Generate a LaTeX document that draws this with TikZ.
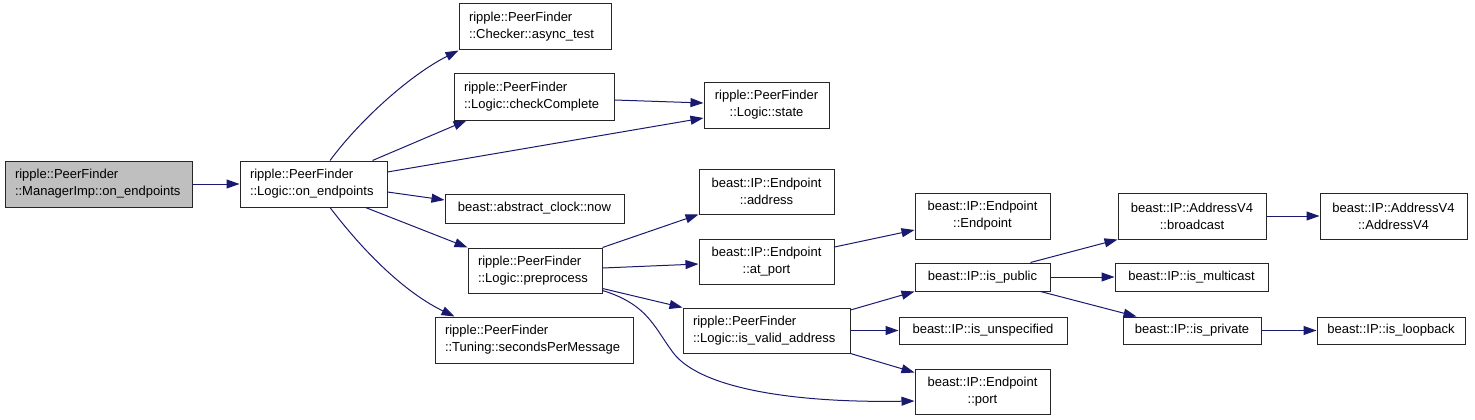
\documentclass[tikz,border=0pt]{standalone}
\usepackage{fontspec}
\setmainfont{Liberation Sans}
\usetikzlibrary{arrows.meta}
\definecolor{edgeblue}{HTML}{191970}
\definecolor{hilite}{HTML}{BFBFBF}
\tikzset{
  fn/.style={draw=black!85, line width=1pt, fill=white, inner ysep=0pt, inner xsep=10pt,
    font=\fontsize{13}{17}\selectfont, anchor=center},
  lbox/.style={fn, align=left},
  cbox/.style={fn, align=center},
  call/.style={draw=edgeblue, line width=1pt, -{Triangle[length=13pt,width=9pt]}},
}
\begin{document}
\begin{tikzpicture}[x=1pt,y=-1pt]
\useasboundingbox (0,0) rectangle (1475,420);
% nodes
\node[lbox, fill=hilite, text width=167pt, minimum height=46pt] (A) at (98.5,184) {ripple::PeerFinder\\::ManagerImp::on\_endpoints};
\node[lbox, text width=127pt, minimum height=46pt] (B) at (313.5,184) {ripple::PeerFinder\\::Logic::on\_endpoints};
\node[lbox, text width=132pt, minimum height=46pt] (C) at (535,27) {ripple::PeerFinder\\::Checker::async\_test};
\node[lbox, text width=140pt, minimum height=46pt] (D) at (534,97) {ripple::PeerFinder\\::Logic::checkComplete};
\node[cbox, minimum width=125pt, minimum height=46pt] (E) at (766.5,105) {ripple::PeerFinder\\::Logic::state};
\node[cbox, minimum width=179pt, minimum height=29pt] (F) at (534.5,208.5) {beast::abstract\_clock::now};
\node[lbox, text width=114pt, minimum height=45pt] (G) at (535,270.5) {ripple::PeerFinder\\::Logic::preprocess};
\node[cbox, minimum width=135pt, minimum height=45pt] (H) at (766.5,191.5) {beast::IP::Endpoint\\::address};
\node[cbox, minimum width=135pt, minimum height=45pt] (I) at (766.5,261.5) {beast::IP::Endpoint\\::at\_port};
\node[lbox, text width=178pt, minimum height=46pt] (J) at (534,340) {ripple::PeerFinder\\::Tuning::secondsPerMessage};
\node[lbox, text width=147pt, minimum height=45pt] (K) at (766.5,330.5) {ripple::PeerFinder\\::Logic::is\_valid\_address};
\node[cbox, minimum width=135pt, minimum height=46pt] (L) at (982.5,216) {beast::IP::Endpoint\\::Endpoint};
\node[cbox, minimum width=135pt, minimum height=28pt] (M) at (982.5,277) {beast::IP::is\_public};
\node[cbox, minimum width=148pt, minimum height=46pt] (N) at (1192,216) {beast::IP::AddressV4\\::broadcast};
\node[cbox, minimum width=147pt, minimum height=46pt] (O) at (1393.5,216) {beast::IP::AddressV4\\::AddressV4};
\node[cbox, minimum width=153pt, minimum height=28pt] (P) at (1191.5,277) {beast::IP::is\_multicast};
\node[cbox, minimum width=168pt, minimum height=27pt] (Q) at (983,330.5) {beast::IP::is\_unspecified};
\node[cbox, minimum width=135pt, minimum height=45pt] (R) at (982.5,391.5) {beast::IP::Endpoint\\::port};
\node[cbox, minimum width=138pt, minimum height=27pt] (S) at (1192,330.5) {beast::IP::is\_private};
\node[cbox, minimum width=148pt, minimum height=27pt] (T) at (1391,330.5) {beast::IP::is\_loopback};
% edges
\draw[call] (A.east) -- (B.west);
\draw[call] ([xshift=16.5pt]B.north) .. controls (360,120) and (410,75) .. (C.south west);
\draw[call] ([xshift=-15pt]B.north east) -- ([xshift=13pt]D.south west);
\draw[call] ([yshift=12pt]B.east) -- ([yshift=-13pt]E.west);
\draw[call] ([yshift=-8pt]B.east) -- ([yshift=8.5pt]F.west);
\draw[call] ([xshift=-22pt]B.south east) -- (G.north west);
\draw[call] ([xshift=16.5pt]B.south) .. controls (370,260) and (410,295) .. ([xshift=20pt]J.north west);
\draw[call] (G.north east) -- (H.south west);
\draw[call] ([yshift=-3pt]D.east) -- ([yshift=2pt]E.west);
\draw[call] ([yshift=2.5pt]G.east) -- ([yshift=-2.5pt]I.west);
\draw[call] ([yshift=-18pt]G.east) -- (K.north west);
\draw[call] ([yshift=-20pt]G.east) .. controls (650,305) and (655,330) .. (675,355) .. controls (705,390) and (800,403) .. ([yshift=-9.5pt]R.west);
\draw[call] ([yshift=14.5pt]I.east) -- ([yshift=-14pt]L.west);
\draw[call] ([yshift=20.5pt]K.east) -- (M.south west);
\draw[call] (K.east) -- (Q.west);
\draw[call] (K.south east) -- ([yshift=-4pt]R.north west);
\draw[call] ([xshift=-20pt]M.north east) -- (N.south west);
\draw[call] (M.east) -- (P.west);
\draw[call] ([xshift=-10pt]M.south east) -- ([xshift=14pt]S.north west);
\draw[call] (N.east) -- (O.west);
\draw[call] (S.east) -- (T.west);
\end{tikzpicture}
\end{document}
